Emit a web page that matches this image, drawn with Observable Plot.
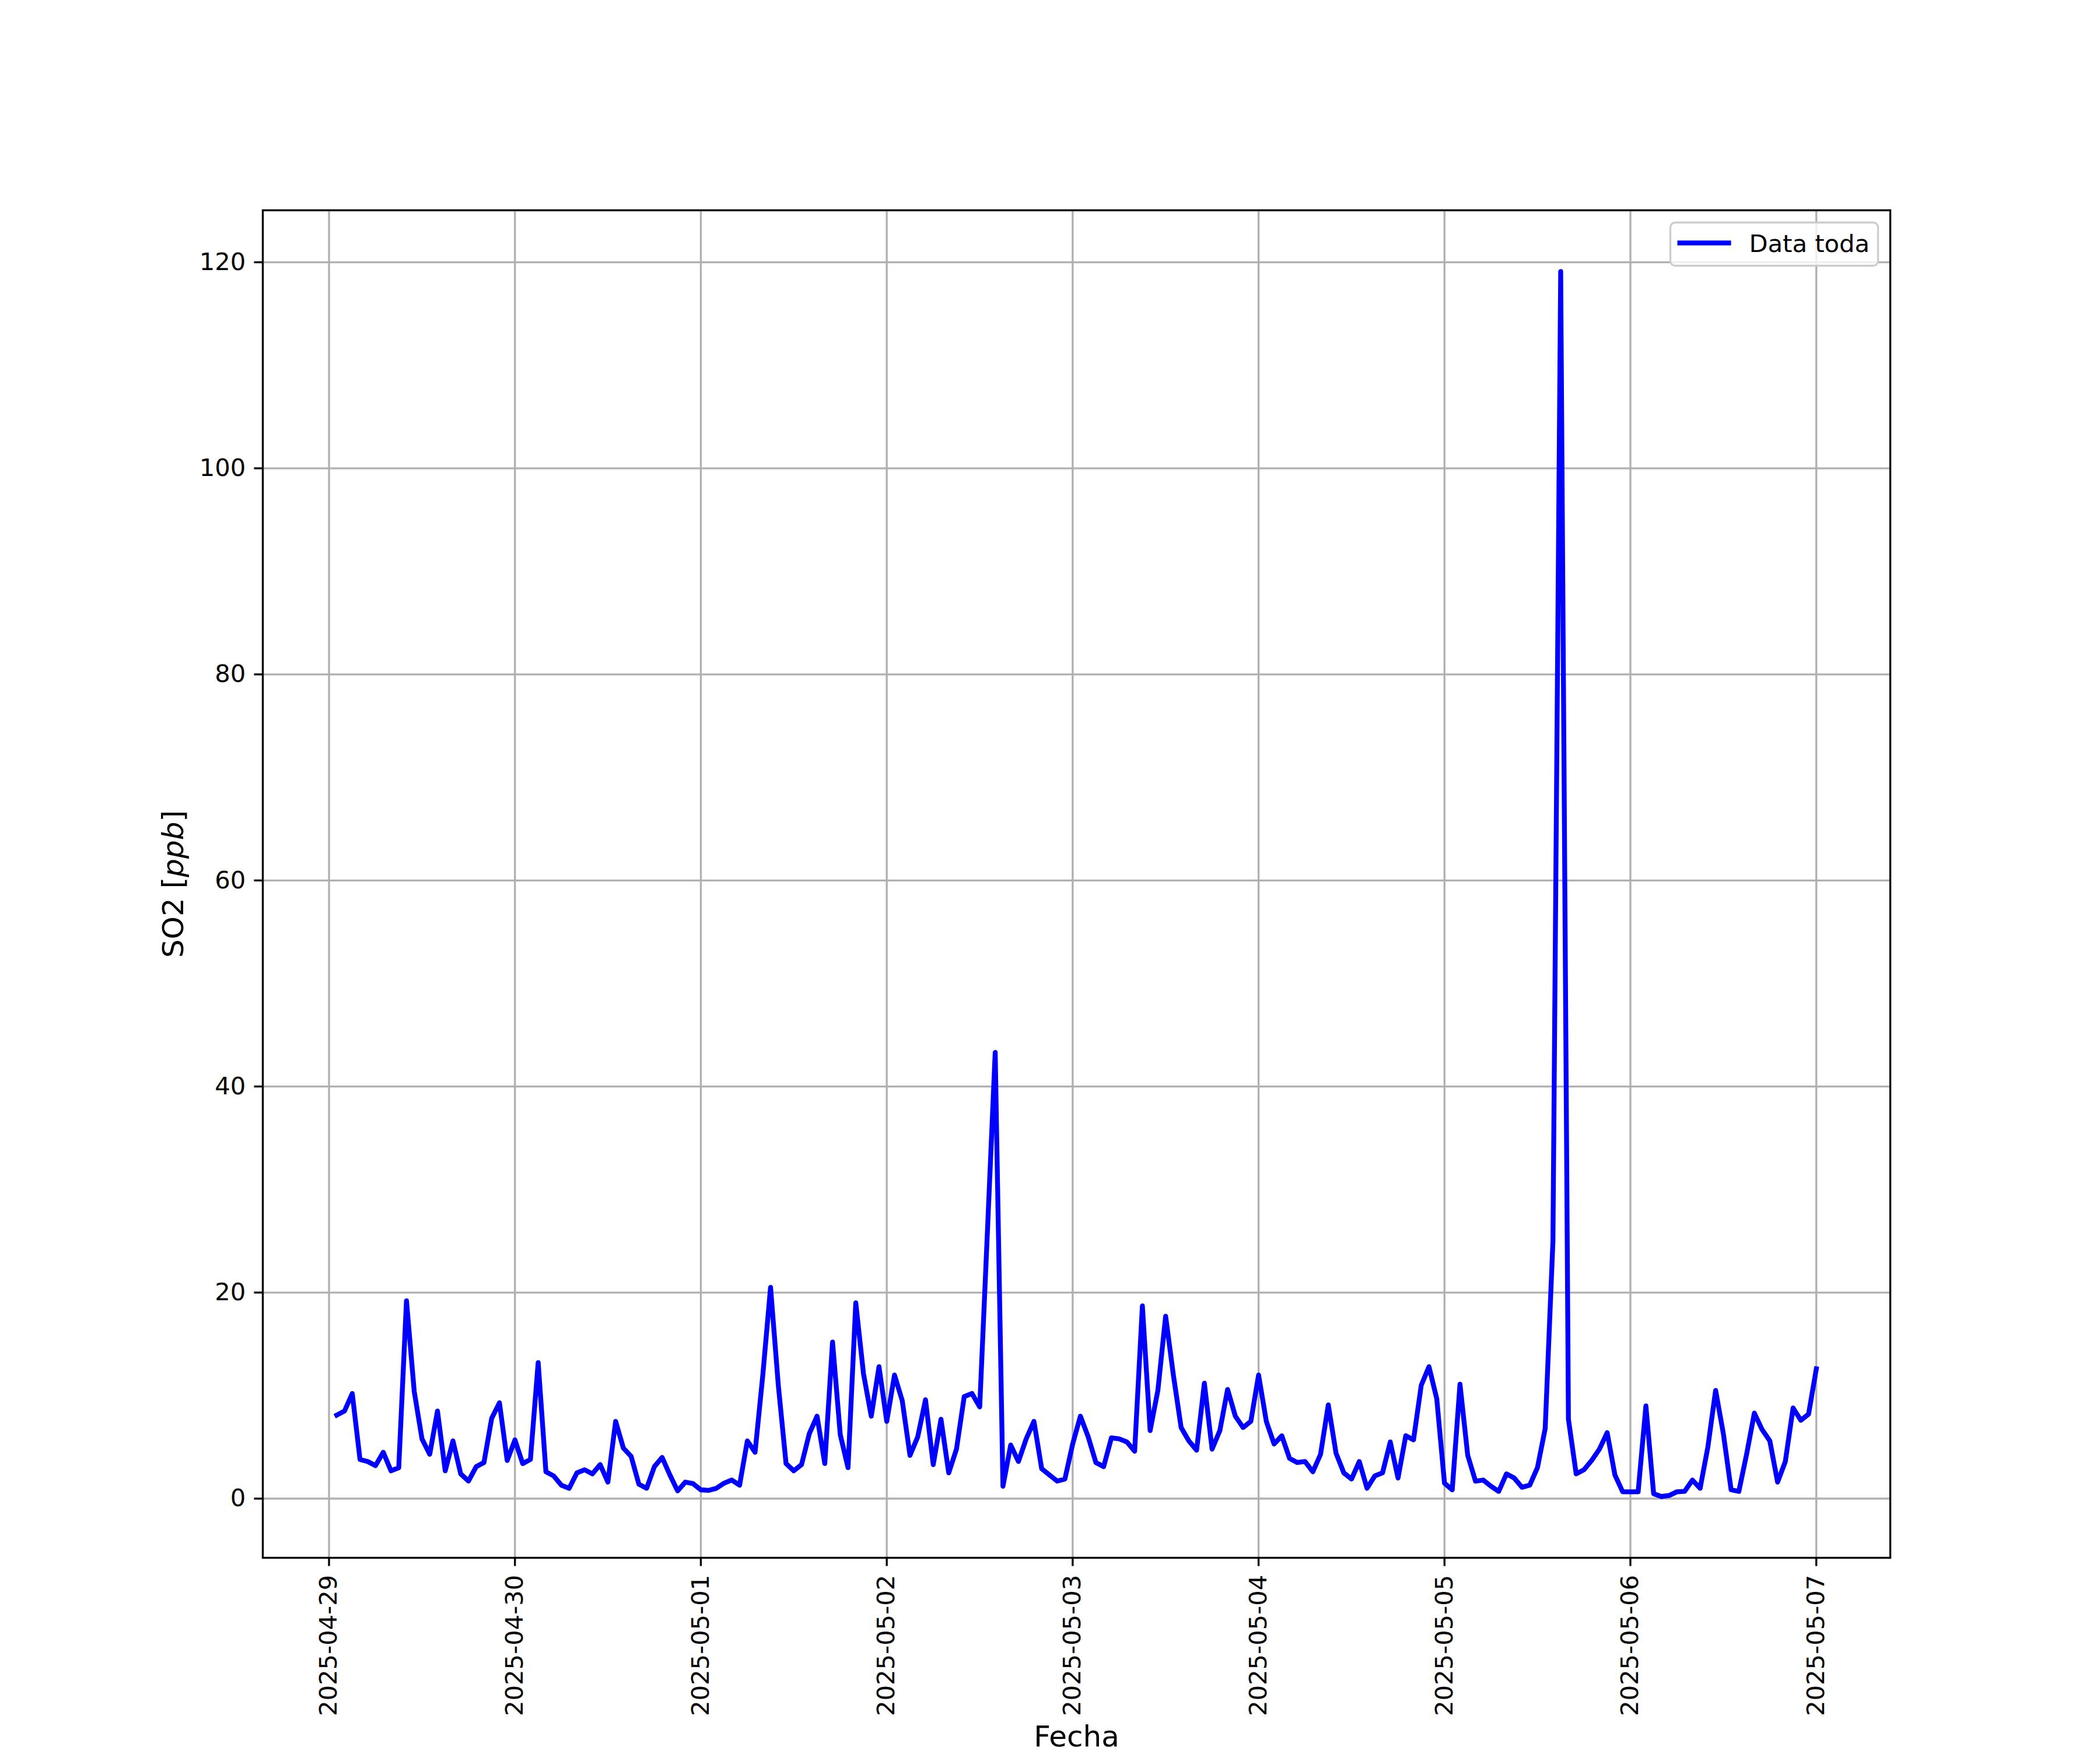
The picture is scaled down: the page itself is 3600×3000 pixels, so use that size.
<!DOCTYPE html>
<html><head><meta charset="utf-8">
<script src="https://cdn.jsdelivr.net/npm/d3@7"></script>
<script src="https://cdn.jsdelivr.net/npm/@observablehq/plot@0.6"></script>
<style>html,body{margin:0;padding:0;background:#fff;} svg{display:block;}</style>
</head><body><div id="chart"></div>
<script>
// ---- data (hourly SO2 readings, ppb) ----
const seriesLabel = "Data toda";
const xLabel = "Fecha";
const yLabel = "SO2 [ppb]";
const startTime = "2025-04-29T01:00:00Z"; // first reading, then hourly
const so2_0429 = [8.1, 8.5, 10.2, 3.8, 3.6, 3.2, 4.5, 2.7, 3.0, 19.2, 10.4, 5.8, 4.3, 8.5, 2.7, 5.6, 2.4, 1.7, 3.1, 3.5, 7.8, 9.3, 3.7];
const so2_0430 = [5.7, 3.4, 3.8, 13.2, 2.6, 2.2, 1.3, 1.0, 2.5, 2.8, 2.4, 3.3, 1.6, 7.5, 4.9, 4.1, 1.4, 1.0, 3.1, 4.0, 2.3, 0.75, 1.6, 1.45];
const so2_0501 = [0.85, 0.8, 1.0, 1.5, 1.8, 1.3, 5.6, 4.5, 12.0, 20.5, 11.0, 3.4, 2.7, 3.3, 6.3, 8.0, 3.4, 15.2, 6.2, 3.0, 19.0, 12.1, 8.0, 12.8];
const so2_0502 = [7.5, 12.0, 9.5, 4.2, 6.0, 9.6, 3.3, 7.7, 2.5, 4.8, 9.9, 10.2, 8.9, 26.0, 43.3, 1.2, 5.2, 3.6, 5.8, 7.5, 2.9, 2.3, 1.7, 1.9];
const so2_0503 = [5.3, 8.0, 6.0, 3.5, 3.1, 5.9, 5.8, 5.5, 4.6, 18.7, 6.6, 10.5, 17.7, 12.0, 6.9, 5.6, 4.7, 11.2, 4.8, 6.6, 10.6, 8.0, 6.9, 7.5];
const so2_0504 = [12.0, 7.5, 5.3, 6.1, 3.9, 3.5, 3.6, 2.6, 4.3, 9.1, 4.4, 2.5, 1.9, 3.6, 1.0, 2.2, 2.5, 5.5, 2.0, 6.1, 5.7, 11.0, 12.8, 9.7];
const so2_0505 = [1.5, 0.85, 11.1, 4.2, 1.7, 1.8, 1.2, 0.7, 2.4, 2.0, 1.1, 1.3, 3.0, 6.8, 25.0, 119.1, 7.7, 2.4, 2.8, 3.7, 4.8, 6.4, 2.3, 0.66];
const so2_0506 = [0.66, 0.66, 9.0, 0.47, 0.2, 0.3, 0.66, 0.7, 1.8, 1.0, 5.0, 10.5, 6.3, 0.85, 0.7, 4.3, 8.3, 6.7, 5.6, 1.6, 3.6, 8.8, 7.6, 8.2];
const so2_0507 = [12.6];
const yTicks = [0, 20, 40, 60, 80, 100, 120];
const xTickDates = ["2025-04-29","2025-04-30","2025-05-01","2025-05-02","2025-05-03","2025-05-04","2025-05-05","2025-05-06","2025-05-07"];

// ---- build table ----
const values = [].concat(so2_0429, so2_0430, so2_0501, so2_0502, so2_0503, so2_0504, so2_0505, so2_0506, so2_0507);
const t0 = new Date(startTime).getTime();
const data = values.map((v, i) => ({t: new Date(t0 + i * 3600e3), v}));
const xTicks = xTickDates.map(s => new Date(s + "T00:00:00Z"));

// matplotlib-like 5% margins
const tMin = data[0].t.getTime(), tMax = data[data.length - 1].t.getTime();
const tPad = 0.05 * (tMax - tMin);
const vMin = d3.min(values), vMax = d3.max(values);
const vPad = 0.05 * (vMax - vMin);

const W = 3600, H = 3000;
const mL = 450, mR = 360, mT = 360, mB = 330;
const fs = 41.67, lw = 3.33, tick = 14.6;
const grid = "#b0b0b0";

const chart = Plot.plot({
  width: W, height: H,
  marginLeft: mL, marginRight: mR, marginTop: mT, marginBottom: mB,
  x: {type: "utc", domain: [new Date(tMin - tPad), new Date(tMax + tPad)]},
  y: {type: "linear", domain: [vMin - vPad, vMax + vPad]},
  style: {fontFamily: "DejaVu Sans", fontSize: fs + "px", background: "white", color: "black", overflow: "visible"},
  marks: [
    Plot.gridX(xTicks, {stroke: grid, strokeOpacity: 1, strokeWidth: lw}),
    Plot.gridY(yTicks, {stroke: grid, strokeOpacity: 1, strokeWidth: lw}),
    Plot.line(data, {x: "t", y: "v", stroke: "#0000ff", strokeWidth: 8.33, strokeLinecap: "square", strokeLinejoin: "round"}),
    Plot.frame({stroke: "black", strokeWidth: lw}),
    Plot.axisX(xTicks, {
      tickFormat: d3.utcFormat("%Y-%m-%d"), tickRotate: -90, textAnchor: "end", lineAnchor: "middle",
      tickSize: tick, tickPadding: tick, strokeWidth: lw, label: null
    }),
    Plot.axisY(yTicks, {tickSize: tick, tickPadding: tick, strokeWidth: lw, label: null}),
    Plot.text([xLabel], {frameAnchor: "bottom", textAnchor: "middle", lineAnchor: "middle", dy: 307, fontSize: 50}),
    Plot.text([yLabel], {frameAnchor: "left", rotate: -90, textAnchor: "middle", lineAnchor: "middle", dx: -153, fontSize: 50}),
    // legend (upper right)
    Plot.frame({fill: "white", fillOpacity: 0.8, stroke: "#cccccc", strokeWidth: lw, rx: 8,
      insetLeft: 2863 - mL, insetRight: (W - mR) - 3219, insetTop: 381 - mT, insetBottom: (H - mB) - 455}),
    Plot.frame({fill: "#0000ff", stroke: null,
      insetLeft: 2875 - mL, insetRight: (W - mR) - 2967, insetTop: 416 - 4.17 - mT, insetBottom: (H - mB) - (416 + 4.17)}),
    Plot.text([seriesLabel], {frameAnchor: "top-right", textAnchor: "start", lineAnchor: "middle", dx: 2998 - (W - mR), dy: 58.4, fontSize: fs})
  ]
});

// italic "ppb" like matplotlib mathtext
d3.select(chart).selectAll("text").each(function() {
  if (this.textContent === yLabel) {
    const el = d3.select(this);
    el.text("");
    el.append("tspan").text("SO2 [");
    el.append("tspan").attr("font-style", "italic").text("ppb");
    el.append("tspan").text("]");
  }
});

document.getElementById("chart").appendChild(chart);
</script>
</body></html>
